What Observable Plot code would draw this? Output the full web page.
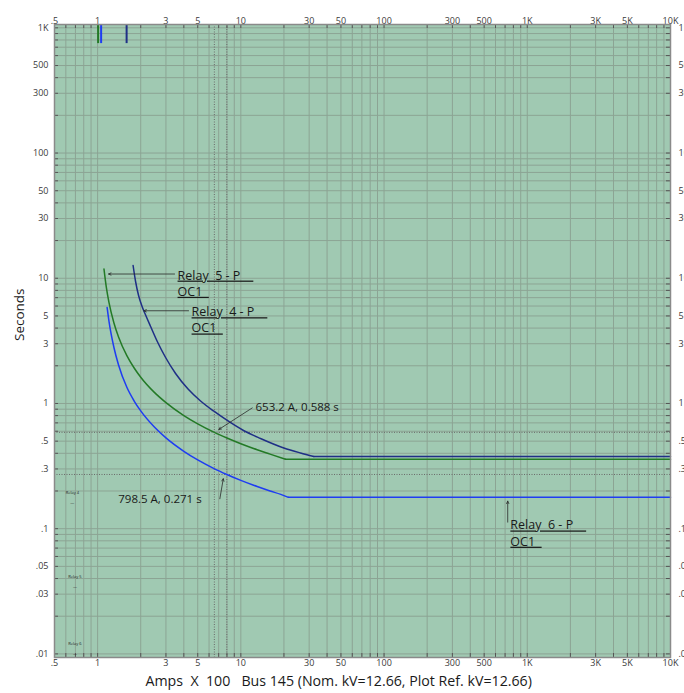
<!DOCTYPE html>
<html><head><meta charset="utf-8">
<script src="https://cdn.jsdelivr.net/npm/d3@7"></script>
<script src="https://cdn.jsdelivr.net/npm/@observablehq/plot@0.6"></script>
<style>
html,body{margin:0;padding:0;background:#fff;overflow:hidden;}
g[aria-description="underlined"] text{ text-decoration: underline; }
</style></head><body><div id="chart"></div>
<script>
// Axis ticks
const xTickValues = [0.5,1,3,5,10,30,50,100,300,500,1000,3000,5000,10000];
const xTickLabels = [".5","1","3","5","10","30","50","100","300","500","1K","3K","5K","10K"];
const yTickValues = [1000,500,300,100,50,30,10,5,3,1,0.5,0.3,0.1,0.05,0.03,0.01];
const yTickLabels = ["1K","500","300","100","50","30","10","5","3","1",".5",".3",".1",".05",".03",".01"];

// Relay curves (Amps x 100, seconds)
const relay5Amps = [1.108,1.15,1.2,1.3,1.4,1.6,1.8,2.0,2.5,3,4,5,6.532,8,10,13,16,20.5];
const relay5Secs = [11.83,8.49,6.41,4.39,3.40,2.41,1.92,1.62,1.22,1.016,0.801,0.688,0.588,0.530,0.477,0.427,0.394,0.358];
const relay4Amps = [1.769,1.841,1.932,2.044,2.163,2.344,2.610,2.983,3.502,4.280,5.233,6.449,8.037,10.44,13.72,19.95,26.10,32.31];
const relay4Secs = [12.64,9.42,7.283,5.951,5.089,4.120,3.126,2.329,1.736,1.305,1.047,0.8712,0.7317,0.6087,0.5255,0.4413,0.4025,0.3774];
const relay6Amps = [1.165,1.2,1.3,1.4,1.6,1.8,2.0,2.5,3,4,5,6.5,7.985,10,13,16,19,21.5];
const relay6Secs = [5.85,4.55,2.80,2.03,1.346,1.046,0.872,0.645,0.531,0.415,0.354,0.302,0.271,0.243,0.217,0.200,0.188,0.178];
const curveEndAmps = 10000;
const relayNames = ["Relay 5","Relay 4","Relay 6"];
const relayColors = ["#237a26","#1f2f86","#1e3cf2"];

// Pickup markers at top
const pickupAmps = [1.008,1.058,1.594];
const pickupColors = ["#237a26","#1e3cf2","#1f2f86"];
const pickupBottomSecs = 748;

// Reference (dotted) lines
const refAmps = [6.532,7.985];
const refSecs = [0.588,0.271];

// Annotations
const relayLabelText = ["Relay  5 - P    \nOC1  ","Relay  4 - P    \nOC1  ","Relay  6 - P    \nOC1  "];
const relayLabelAmps = [3.616,4.529,762];
const relayLabelSecs = [12.07,6.15,0.1219];
const pointLabelText = ["653.2 A, 0.588 s","798.5 A, 0.271 s"];
const pointLabelAmps = [12.66,1.394];
const pointLabelSecs = [0.934,0.1712];
const arrowTailAmps = [3.445,4.315,730,12.01,7.137];
const arrowTailSecs = [10.81,5.50,0.1128,0.921,0.1734];
const arrowTipAmps  = [1.193,2.104,730,7.02,7.54];
const arrowTipSecs  = [10.81,5.50,0.166,0.620,0.2505];
const miniLegendText = ["Relay 4","Relay 5","Relay 6"];
const miniLegendAmps = [0.666,0.694,0.694];
const miniLegendSecs = [0.1936,0.0416,0.01207];
const miniDashSecs = [0.161,0.0346,0.00996];

const xTitle = "Amps  X  100   Bus 145 (Nom. kV=12.66, Plot Ref. kV=12.66)";
const yTitle = "Seconds";

// build tables
const curves = [relay5Amps, relay4Amps, relay6Amps].map((a, k) => {
  const s = [relay5Secs, relay4Secs, relay6Secs][k];
  return a.map((v, i) => ({amps: v, secs: s[i], relay: relayNames[k]}));
});
const flats = curves.map((c, k) => {
  const last = c[c.length - 1];
  return [last, {amps: curveEndAmps, secs: last.secs, relay: relayNames[k]}];
});
const gridX = [], gridY = [];
for (let e = -1; e <= 4; e++) for (let m = 1; m <= 9; m++) { const v = +(m * Math.pow(10, e)).toPrecision(6); if (v >= 0.5 && v <= 10000) gridX.push(v); }
for (let e = -2; e <= 3; e++) for (let m = 1; m <= 9; m++) { const v = +(m * Math.pow(10, e)).toPrecision(6); if (v >= 0.01 && v <= 1000) gridY.push(v); }
const arrows = arrowTailAmps.map((v, i) => ({x1: v, y1: arrowTailSecs[i], x2: arrowTipAmps[i], y2: arrowTipSecs[i]}));

const font = "Open Sans, sans-serif";
const tickFill = "#3a3a3a";
const marks = [
  Plot.frame({fill: "#a0c9b2"}),
  Plot.ruleX(gridX, {stroke: "#8ca494", strokeWidth: 1}),
  Plot.ruleY(gridY, {stroke: "#8ca494", strokeWidth: 1}),
  Plot.ruleX(refAmps, {stroke: "#6a6a6a", strokeWidth: 1, strokeDasharray: "1,1.5"}),
  Plot.ruleY(refSecs, {stroke: "#6a6a6a", strokeWidth: 1, strokeDasharray: "1,1.5"}),
  // inward ticks
  Plot.tickX(gridX, {x: d => d, insetBottom: 629, stroke: "#555", strokeWidth: 1}),
  Plot.tickX(gridX, {x: d => d, insetTop: 629, stroke: "#555", strokeWidth: 1}),
  Plot.tickY(gridY, {y: d => d, insetRight: 612, stroke: "#555", strokeWidth: 1}),
  Plot.tickY(gridY, {y: d => d, insetLeft: 612, stroke: "#555", strokeWidth: 1}),
  // pickup markers
  Plot.ruleX(pickupAmps, {x: d => d, y1: 1063, y2: pickupBottomSecs, stroke: (d, i) => pickupColors[i], strokeWidth: 2}),
  // curves
  ...curves.map((c, k) => Plot.line(c, {x: "amps", y: "secs", stroke: relayColors[k], strokeWidth: 1.5, curve: "monotone-x"})),
  ...flats.map((c, k) => Plot.line(c, {x: "amps", y: "secs", stroke: relayColors[k], strokeWidth: 1.5})),
  // annotations
  Plot.arrow(arrows, {x1: "x1", y1: "y1", x2: "x2", y2: "y2", stroke: "#2a2a2a", strokeWidth: 0.8, headLength: 5, headAngle: 50}),
  Plot.text(relayLabelText, {x: (d, i) => relayLabelAmps[i], y: (d, i) => relayLabelSecs[i], text: d => d, textAnchor: "start", lineAnchor: "top", lineHeight: 1.3, fontSize: 12.5, fontFamily: font, fill: "#1a1a1a", ariaDescription: "underlined"}),
  Plot.text(pointLabelText, {x: (d, i) => pointLabelAmps[i], y: (d, i) => pointLabelSecs[i], text: d => d, textAnchor: "start", lineAnchor: "middle", fontSize: 11.5, fontFamily: font, fill: "#1a1a1a"}),
  Plot.text(miniLegendText, {x: (d, i) => miniLegendAmps[i], y: (d, i) => miniLegendSecs[i], text: d => d, textAnchor: "middle", fontSize: 4, fontFamily: font, fill: "#222"}),
  Plot.text(miniLegendText, {x: (d, i) => miniLegendAmps[i], y: (d, i) => miniDashSecs[i], text: () => "—", textAnchor: "middle", fontSize: 4, fontFamily: font, fill: "#222"}),
  // tick labels
  Plot.text(xTickValues, {x: d => d, text: (d, i) => xTickLabels[i], frameAnchor: "top", dy: -7, fontSize: 9, fontFamily: font, fill: tickFill}),
  Plot.text(xTickValues, {x: d => d, text: (d, i) => xTickLabels[i], frameAnchor: "bottom", dy: 8, fontSize: 9, fontFamily: font, fill: tickFill}),
  Plot.text(yTickValues, {y: d => d, text: (d, i) => yTickLabels[i], frameAnchor: "left", dx: -6, textAnchor: "end", fontSize: 9, fontFamily: font, fill: tickFill}),
  Plot.text(yTickValues, {y: d => d, text: (d, i) => yTickLabels[i], frameAnchor: "right", dx: 8, textAnchor: "start", fontSize: 9, fontFamily: font, fill: tickFill}),
  // axis titles
  Plot.text([xTitle], {frameAnchor: "bottom-left", dx: 91, dy: 28, textAnchor: "start", text: d => d, fontSize: 14.2, fontFamily: font, fill: "#1a1a1a"}),
  Plot.text([yTitle], {frameAnchor: "left", dx: -34.5, rotate: -90, text: d => d, fontSize: 13.5, fontFamily: font, fill: "#1a1a1a"}),
  Plot.frame({stroke: "#8a8a8a", strokeWidth: 1.5})
];

const chart = Plot.plot({
  width: 684, height: 693,
  marginLeft: 54, marginRight: 14, marginTop: 24, marginBottom: 36,
  x: {type: "log", domain: [0.5, 10000], axis: null},
  y: {type: "log", domain: [0.00936, 1063], axis: null},
  style: {fontFamily: font, background: "white"},
  marks
});
document.getElementById("chart").appendChild(chart);
</script>
</body></html>
